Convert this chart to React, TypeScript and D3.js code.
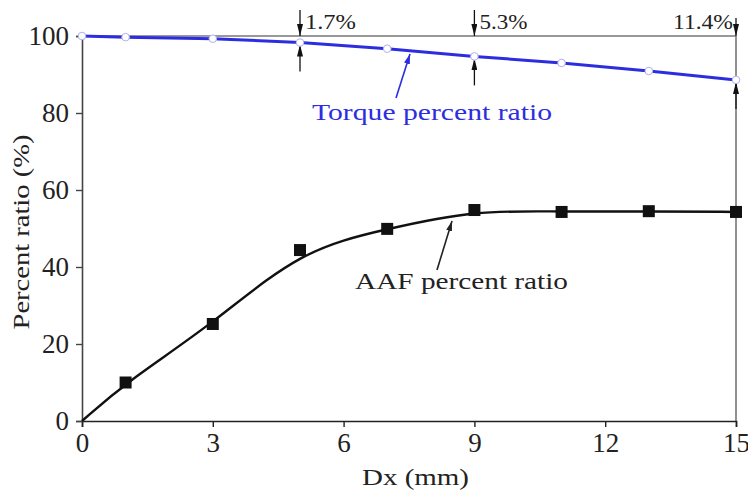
import React, { useEffect, useRef } from "react";
import * as d3 from "d3";

const dx = [0, 1, 3, 5, 7, 9, 11, 13, 15];
const aafRatio = [0, 10, 25.2, 44.4, 49.9, 54.8, 54.3, 54.5, 54.3];
const torqueRatio = [100, 99.7, 99.3, 98.3, 96.7, 94.7, 93, 90.9, 88.6];
const xTicks = [0, 3, 6, 9, 12, 15];
const yTicks = [0, 20, 40, 60, 80, 100];
const drops = [
  { x: 5, label: "1.7%", len: 51 },
  { x: 9, label: "5.3%", len: 48 },
  { x: 15, label: "11.4%", len: 60 },
];

const width = 748;
const height = 493;
const margin = { top: 36, right: 12, bottom: 72, left: 82 };
const font = "Liberation Serif";
const blue = "#2d2de0";

const App = () => {
  const xAxisRef = useRef<SVGGElement>(null);
  const yAxisRef = useRef<SVGGElement>(null);

  const x = d3.scaleLinear().domain([0, 15]).range([margin.left, width - margin.right]);
  const y = d3.scaleLinear().domain([0, 100]).range([height - margin.bottom, margin.top]);

  useEffect(() => {
    const xa = d3.select(xAxisRef.current);
    xa.selectAll("*").remove();
    xa.call(d3.axisBottom(x).tickValues(d3.range(1.5, 15, 3)).tickSize(4).tickFormat(() => ""));
    xa.call(d3.axisBottom(x).tickValues(xTicks).tickSize(6).tickPadding(6).tickFormat(d3.format("d")));
    xa.attr("font-family", font).attr("font-size", 27);
    xa.selectAll("path.domain").attr("stroke", "#222").attr("stroke-width", 1.6);
    xa.selectAll("line").attr("stroke", "#222").attr("stroke-width", 1.4);
    xa.selectAll("text").attr("fill", "#222");

    const ya = d3.select(yAxisRef.current);
    ya.selectAll("*").remove();
    ya.call(d3.axisLeft(y).tickValues(d3.range(10, 100, 20)).tickSize(3).tickFormat(() => ""));
    ya.call(d3.axisLeft(y).tickValues(yTicks).tickSize(6).tickPadding(7).tickFormat(d3.format("d")));
    ya.attr("font-family", font).attr("font-size", 27);
    ya.selectAll("path.domain").attr("stroke", "#444").attr("stroke-width", 1.6);
    ya.selectAll("line").attr("stroke", "#444").attr("stroke-width", 1.4);
    ya.selectAll("text").attr("fill", "#222");
  }, []);

  const pts = dx.map((d, i) => ({ x: d, aaf: aafRatio[i], tq: torqueRatio[i] }));

  const aafLine = d3
    .line<{ x: number; aaf: number }>()
    .x((d) => x(d.x))
    .y((d) => y(d.aaf))
    .curve(d3.curveBasis);

  const torqueLine = d3
    .line<{ x: number; tq: number }>()
    .x((d) => x(d.x))
    .y((d) => y(d.tq));

  return (
    <svg
      width={width}
      height={height}
      fontFamily={font}
      style={{ position: "absolute", left: 0, top: 0, background: "#fff" }}
    >
      <defs>
        <marker id="ah" viewBox="0 0 12 6" refX="12" refY="3" markerWidth="12" markerHeight="6" markerUnits="userSpaceOnUse" orient="auto">
          <path d="M0,0 L12,3 L0,6 z" fill="#111" />
        </marker>
        <marker id="ahb" viewBox="0 0 10 6" refX="10" refY="3" markerWidth="10" markerHeight="6" markerUnits="userSpaceOnUse" orient="auto">
          <path d="M0,0 L10,3 L0,6 z" fill={blue} />
        </marker>
        <marker id="ahk" viewBox="0 0 10 6" refX="10" refY="3" markerWidth="10" markerHeight="6" markerUnits="userSpaceOnUse" orient="auto">
          <path d="M0,0 L10,3 L0,6 z" fill="#222" />
        </marker>
      </defs>

      {/* frame top and right */}
      <line x1={x(0)} x2={x(15)} y1={y(100)} y2={y(100)} stroke="#777" strokeWidth={1.6} />
      <line x1={x(15)} x2={x(15)} y1={y(100)} y2={y(0)} stroke="#777" strokeWidth={1.6} />

      <g ref={xAxisRef} transform={`translate(0,${y(0)})`} />
      <g ref={yAxisRef} transform={`translate(${x(0)},0)`} />

      {/* drop annotations */}
      {drops.map((d) => {
        const tq = torqueRatio[dx.indexOf(d.x)];
        const last = d.x === 15;
        return (
          <g key={d.label}>
            <line x1={x(d.x)} x2={x(d.x)} y1={last ? 18 : 10} y2={y(100)} stroke="#111" strokeWidth={1.3} markerEnd="url(#ah)" />
            <line x1={x(d.x)} x2={x(d.x)} y1={y(tq) + 29} y2={y(tq) + 2} stroke="#111" strokeWidth={1.3} markerEnd="url(#ah)" />
            <text
              x={last ? x(d.x) - d.len - 3 : x(d.x) + 5}
              y={29}
              textLength={d.len}
              lengthAdjust="spacingAndGlyphs"
              fontSize={22}
              fill="#222"
            >
              {d.label}
            </text>
          </g>
        );
      })}

      <path d={torqueLine(pts) || ""} fill="none" stroke={blue} strokeWidth={3} />
      {pts.map((d) => (
        <circle key={"t" + d.x} cx={x(d.x)} cy={y(d.tq)} r={3.8} fill="#fff" stroke="#b0b0ee" strokeWidth={1} />
      ))}

      <path d={aafLine(pts) || ""} fill="none" stroke="#111" strokeWidth={2.4} />
      {pts.slice(1).map((d) => (
        <rect key={"a" + d.x} x={x(d.x) - 6} y={y(d.aaf) - 6} width={12} height={12} fill="#111" />
      ))}

      {/* series labels */}
      <line x1={396} y1={98} x2={410} y2={54} stroke={blue} strokeWidth={1.6} markerEnd="url(#ahb)" />
      <text x={312} y={120} fontSize={23} fill={blue} textLength={240} lengthAdjust="spacingAndGlyphs">
        Torque percent ratio
      </text>
      <line x1={437} y1={270} x2={452} y2={221} stroke="#222" strokeWidth={1.6} markerEnd="url(#ahk)" />
      <text x={355} y={289} fontSize={23} fill="#222" textLength={213} lengthAdjust="spacingAndGlyphs">
        AAF percent ratio
      </text>

      <text
        transform={`translate(29,${232}) rotate(-90)`}
        textAnchor="middle"
        fontSize={24}
        fill="#222"
        textLength={195}
        lengthAdjust="spacingAndGlyphs"
      >
        Percent ratio (%)
      </text>
      <text x={362} y={485} fontSize={24} fill="#222" textLength={107} lengthAdjust="spacingAndGlyphs">
        Dx (mm)
      </text>
    </svg>
  );
};

export default App;
